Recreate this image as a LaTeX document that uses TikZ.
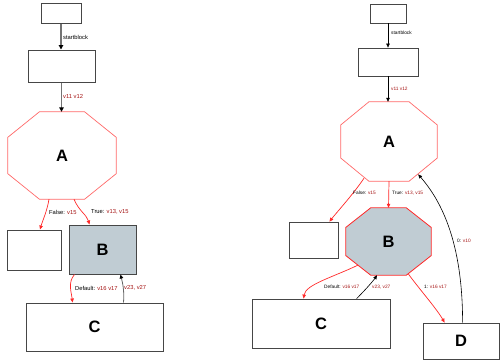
\documentclass[tikz,border=0pt]{standalone}
\usepackage{fontspec}
\setmainfont{Liberation Sans}
\usetikzlibrary{arrows.meta,calc,backgrounds}

\definecolor{nodefill}{RGB}{192,204,211}
\definecolor{valred}{RGB}{165,20,20}
\definecolor{edgered}{RGB}{255,40,40}
\definecolor{octred}{RGB}{255,105,105}
\definecolor{boxline}{RGB}{70,70,70}

% octagon drawn around a (borderless) node: #1 node, #2 corner cut x, #3 corner cut y, #4 style
\newcommand\octagonpath[4]{%
  \draw[#4] ($(#1.north west)+(#2pt,0pt)$) -- ($(#1.north east)+(-#2pt,0pt)$)
    -- ($(#1.north east)+(0pt,-#3pt)$) -- ($(#1.south east)+(0pt,#3pt)$)
    -- ($(#1.south east)+(-#2pt,0pt)$) -- ($(#1.south west)+(#2pt,0pt)$)
    -- ($(#1.south west)+(0pt,#3pt)$) -- ($(#1.north west)+(0pt,-#3pt)$) -- cycle;}

\newcommand\kv[2]{#1 \textcolor{valred}{#2}}

\tikzset{
  box/.style={draw=boxline, line width=1pt, inner sep=0pt},
  boxr/.style={draw=boxline, line width=0.8pt, inner sep=0pt},
  octnode/.style={inner sep=0pt},
  big/.style={font=\fontsize{16.5}{18}\selectfont\bfseries},
  lbl/.style={anchor=west, inner sep=0pt, font=\fontsize{5.8}{7}\selectfont},
  lblr/.style={anchor=west, inner sep=0pt, font=\fontsize{4.8}{6}\selectfont},
  grayedge/.style={draw=black!55, line width=1.2pt, -{Triangle[length=4.5pt,width=4.5pt,color=black]}},
  blkedge/.style={draw=black!60, line width=0.8pt, -{Triangle[length=4pt,width=3.5pt,color=black]}},
  blkedger/.style={draw=black, line width=0.6pt, -{Triangle[length=4pt,width=3.5pt]}},
  redge/.style={draw=edgered, line width=0.7pt, -{Triangle[length=4pt,width=3.5pt]}},
}

\begin{document}
\begin{tikzpicture}[x=1pt, y=-1pt]
\useasboundingbox (0,0) rectangle (500,362);

% ---------- left graph ----------
\node[box, minimum width=40pt, minimum height=20pt] (t1) at (61,13) {};
\node[box, minimum width=67pt, minimum height=32pt] (b1) at (61.5,66) {};
\node[octnode, big, minimum width=108pt, minimum height=87pt] (A) at (62,155.5) {A};
\begin{pgfonlayer}{background}
  \octagonpath{A}{31.6}{25.5}{draw=octred, line width=0.7pt, fill=white}
\end{pgfonlayer}
\node[box, minimum width=54pt, minimum height=40pt] (Lf) at (34,250) {};
\node[box, big, fill=nodefill, minimum width=67pt, minimum height=49pt] (B) at (102.5,249.5) {B};
\node[box, big, minimum width=137pt, minimum height=48pt] (C) at (94.5,327) {C};

\draw[grayedge] (t1.south) -- (t1.south |- b1.north);
\draw[grayedge] (b1.south) -- (b1.south |- A.north);
\draw[redge] ($(A.south)+(-13,0)$) .. controls +(-2,12) and +(3,-10) .. ($(Lf.north)+(6,0)$);
\draw[redge] ($(A.south)+(12,0)$) .. controls +(5,12) and +(-3,-10) .. ($(B.north west)+(21,0)$);
\draw[redge] ($(B.south west)+(6,0)$) .. controls +(-7,8) and +(-1,-10) .. ($(C.north west)+(47,0)$);
\draw[blkedge] ($(C.north west)+(98,0)$) .. controls +(1,-12) and +(2,8) .. ($(B.south west)+(52,0)$);

\node[lbl] (l1) at (63,37) {startblock};
\node[lbl, text=valred] (l2) at (63,96) {v11 v12};
\node[lbl] (l3) at (49,212) {\kv{False:}{v15}};
\node[lbl] (l4) at (91,212) {\kv{True:}{v13, v15}};
\node[lbl] (l5) at (75,288) {\kv{Default:}{v16 v17}};
\node[lbl, text=valred] (l6) at (124,288) {v23, v27};

% ---------- right graph ----------
\node[boxr, minimum width=36pt, minimum height=19pt] (t2) at (388,13.5) {};
\node[boxr, minimum width=60pt, minimum height=28pt] (b2) at (388,62) {};
\node[octnode, big, minimum width=96pt, minimum height=79pt] (A2) at (389,141.5) {A};
\node[boxr, minimum width=49pt, minimum height=36pt] (Rf) at (313.5,240) {};
\node[octnode, big, minimum width=85pt, minimum height=67pt] (B2) at (388.5,241.5) {B};
\begin{pgfonlayer}{background}
  \octagonpath{A2}{28.1}{23.1}{draw=octred, line width=0.7pt, fill=white}
  \octagonpath{B2}{24.9}{19.6}{draw=edgered, line width=0.8pt, fill=nodefill}
\end{pgfonlayer}
\node[boxr, big, minimum width=138pt, minimum height=49pt] (C2) at (321,323.5) {C};
\node[boxr, big, minimum width=76pt, minimum height=36pt] (D2) at (461,341) {D};

\draw[blkedger] (t2.south) -- (t2.south |- b2.north);
\draw[blkedger] (b2.south) -- (b2.south |- A2.north);
\draw[redge] ($(A2.south)+(-25,-3)$) .. controls +(-10,15) and +(8,-10) .. ($(Rf.north east)+(-9,0)$);
\draw[redge] (A2.south) -- (B2.north);
\draw[redge] ($(B2.south west)+(12,-10)$) .. controls +(-25,12) and +(2,-14) .. ($(C2.north west)+(52,0)$);
\draw[blkedger] ($(C2.north west)+(105,0)$) .. controls +(8,-8) and +(-4,6) .. ($(B2.south)+(-11.5,0)$);
\draw[redge] ($(B2.south east)+(-23,-1.5)$) .. controls +(10,14) and +(-8,-14) .. ($(D2.north west)+(22,0)$);
\draw[blkedger] ($(D2.north west)+(40,0)$) .. controls +(0,-73) and +(27,31) .. ($(A2.south east)+(-19,-6.8)$);

\node[lblr] (r1) at (391,33) {startblock};
\node[lblr, text=valred] (r2) at (391,89) {v11 v12};
\node[lblr] (r3) at (353,193) {\kv{False:}{v15}};
\node[lblr] (r4) at (392,193) {\kv{True:}{v13, v15}};
\node[lblr] (r5) at (324,287) {\kv{Default:}{v16 v17}};
\node[lblr, text=valred] (r6) at (372,287) {v23, v27};
\node[lblr] (r7) at (424,287) {\kv{1:}{v16 v17}};
\node[lblr] (r8) at (457,241) {\kv{0:}{v10}};
\end{tikzpicture}
\end{document}
